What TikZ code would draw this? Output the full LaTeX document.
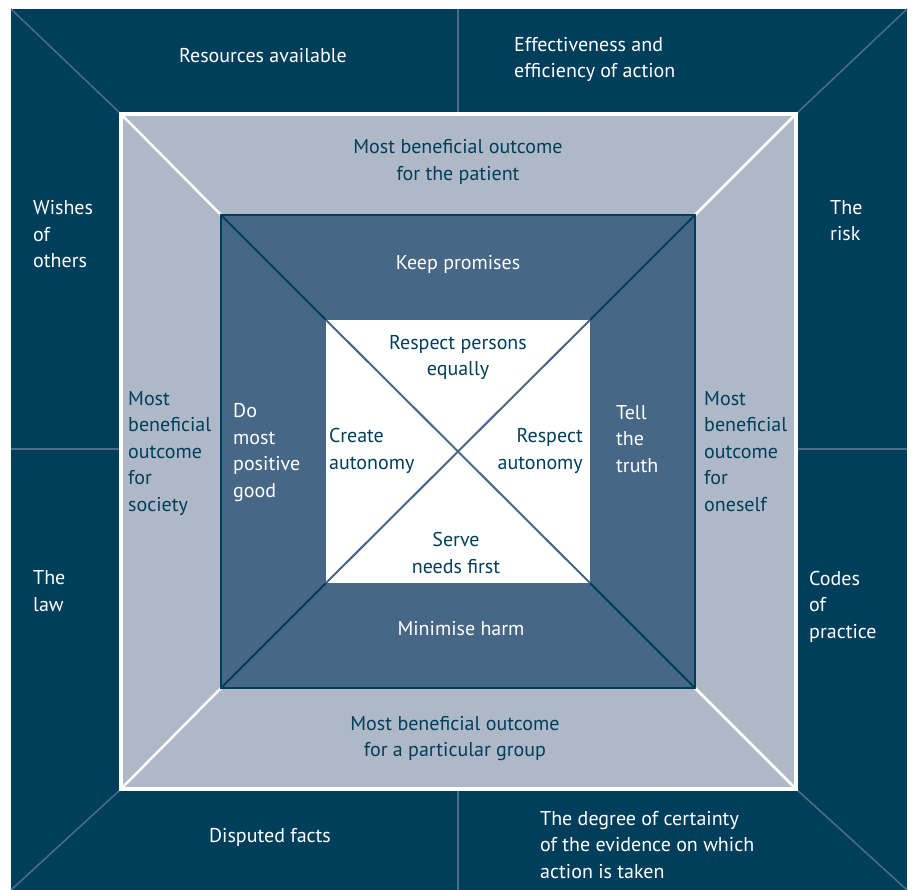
\documentclass[tikz,border=0pt]{standalone}
\usepackage{fontspec}
\setmainfont{PT Sans}
\definecolor{navy}{HTML}{003F5C}
\definecolor{slate}{HTML}{466786}
\definecolor{mist}{HTML}{AFB8C6}
\definecolor{rule}{HTML}{4E6C88}
\tikzset{
    txt/.style={font=\fontsize{20}{26.5}\selectfont, inner sep=0pt, align=left, anchor=base west},
    dk/.style={txt, white},
    lt/.style={txt, navy},
}
\begin{document}
\begin{tikzpicture}[x=1pt, y=-1pt]
    \useasboundingbox (0,0) rectangle (912,890);
    % corners of the four squares
    \coordinate (o1) at (11,9);    \coordinate (o2) at (907,9);
    \coordinate (o3) at (907,890); \coordinate (o4) at (11,890);
    \coordinate (m1) at (121,114); \coordinate (m2) at (796,114);
    \coordinate (m3) at (796,789); \coordinate (m4) at (121,789);
    \coordinate (i1) at (221,215); \coordinate (i2) at (695,215);
    \coordinate (i3) at (695,688); \coordinate (i4) at (221,688);
    \coordinate (c1) at (326,320); \coordinate (c2) at (590,320);
    \coordinate (c3) at (590,583); \coordinate (c4) at (326,583);
    % ends of the outer split lines
    \coordinate (t1) at (458,9);   \coordinate (t2) at (458,114);
    \coordinate (b1) at (458,789); \coordinate (b2) at (458,890);
    \coordinate (l1) at (11,449);  \coordinate (l2) at (121,449);
    \coordinate (r1) at (796,449); \coordinate (r2) at (907,449);

    \fill[navy] (o1) rectangle (o3);
    \draw[rule, line width=1.5pt]
    (o1) edge (m1)
    (o2) edge (m2)
    (o3) edge (m3)
    (o4) edge (m4)
    (t1) edge (t2)
    (b1) edge (b2)
    (l1) edge (l2)
    (r1) edge (r2);

    \filldraw[fill=mist, draw=white, line width=3.5pt] (m1) rectangle (m3);
    \draw[white, line width=2.5pt]
    (m1) edge (i1)
    (m2) edge (i2)
    (m3) edge (i3)
    (m4) edge (i4);

    \filldraw[fill=slate, draw=navy, line width=2.5pt] (i1) rectangle (i3);
    \draw[navy, line width=2pt]
    (i1) edge (c1)
    (i2) edge (c2)
    (i3) edge (c3)
    (i4) edge (c4);

    \fill[white] (c1) rectangle (c3);
    \draw[slate, line width=2pt]
    (c1) edge (c3)
    (c2) edge (c4);

    % outer ring (nodes sit on the baseline of their last line)
    \node[dk, anchor=base] (res) at (263,63) {Resources available};
    \node[dk] (eff) at (514,78) {Effectiveness and\\efficiency of action};
    \node[dk] (wish) at (33,268) {Wishes\\of\\others};
    \node[dk] (risk) at (830,241) {The\\risk};
    \node[dk] (law) at (33,611) {The\\law};
    \node[dk] (codes) at (809,638) {Codes\\of\\practice};
    \node[dk, anchor=base] (facts) at (270,842) {Disputed facts};
    \node[dk] (cert) at (540,878) {The degree of certainty\\of the evidence on which\\action is taken};

    % middle ring
    \node[lt, align=center, anchor=base] (pat) at (458,180.5) {Most beneficial outcome\\for the patient};
    \node[lt] (soc) at (128,511) {Most\\beneficial\\outcome\\for\\society};
    \node[lt] (self) at (704,511) {Most\\beneficial\\outcome\\for\\oneself};
    \node[lt, align=center, anchor=base] (grp) at (455,756.5) {Most beneficial outcome\\for a particular group};

    % inner ring
    \node[dk, anchor=base] (keep) at (458,270) {Keep promises};
    \node[dk] (good) at (233,497) {Do\\most\\positive\\good};
    \node[dk] (tell) at (616,472) {Tell\\the\\truth};
    \node[dk, anchor=base] (harm) at (461,635) {Minimise harm};

    % centre
    \node[lt, align=center, anchor=base] (eq) at (458,375.5) {Respect persons\\equally};
    \node[lt] (cre) at (329,469) {Create\\autonomy};
    \node[lt, align=right, anchor=base east] (resp) at (583,469) {Respect\\autonomy};
    \node[lt, align=center, anchor=base] (serve) at (456,573) {Serve\\needs first};
\end{tikzpicture}
\end{document}
